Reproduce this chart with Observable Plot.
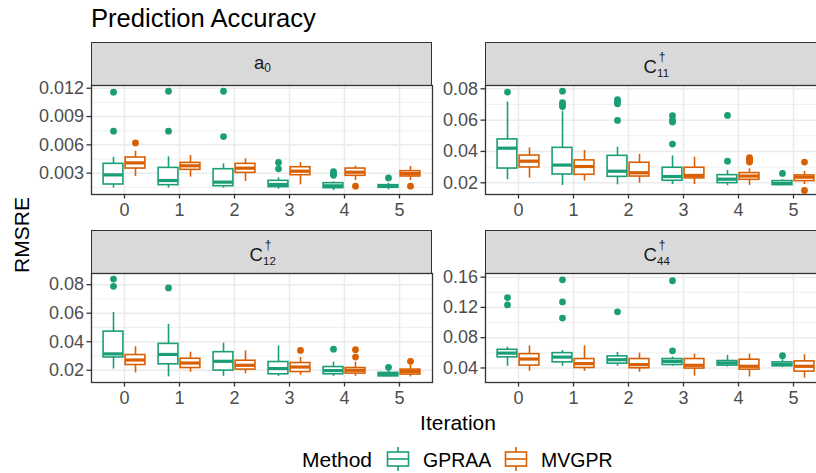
<!DOCTYPE html>
<html>
<head>
<meta charset="utf-8">
<script src="https://cdn.jsdelivr.net/npm/d3@7"></script>
<script src="https://cdn.jsdelivr.net/npm/@observablehq/plot@0.6"></script>
<style>
  html, body { margin: 0; padding: 0; background: #fff; }
  #root { position: relative; width: 816px; height: 473px; overflow: hidden; background: #fff;
          font-family: "Liberation Sans", Arial, sans-serif; }
  .abs { position: absolute; }
  .strip { position: absolute; box-sizing: border-box; background: #d9d9d9; border: 1.3px solid #333; }
  .strip svg { position: absolute; left: 0; top: 0; overflow: visible; }
</style>
</head>
<body>
<div id="root"></div>
<script>
// ---------------- data ----------------
const iterations = [0, 1, 2, 3, 4, 5];
const methods = ["GPRAA", "MVGPR"];
const methodColors = ["#1b9e77", "#d95f02"];

// a0
const a0_GPRAA_lo  = [0.00141, 0.00141, 0.00141, 0.00130, 0.00116, 0.00123];
const a0_GPRAA_q1  = [0.00180, 0.00173, 0.00162, 0.00152, 0.00141, 0.00145];
const a0_GPRAA_med = [0.00282, 0.00222, 0.00205, 0.00180, 0.00166, 0.00162];
const a0_GPRAA_q3  = [0.00399, 0.00356, 0.00342, 0.00219, 0.00194, 0.00173];
const a0_GPRAA_hi  = [0.00469, 0.00473, 0.00399, 0.00250, 0.00208, 0.00194];
const a0_GPRAA_out = [[0, 0.01158], [0, 0.00745], [1, 0.01168], [1, 0.00745], [2, 0.01168], [2, 0.00688],
                      [3, 0.00413], [3, 0.00346], [4, 0.00315], [4, 0.00295], [4, 0.00278], [5, 0.00250]];
const a0_MVGPR_lo  = [0.00265, 0.00258, 0.00212, 0.00176, 0.00222, 0.00222];
const a0_MVGPR_q1  = [0.00349, 0.00335, 0.00303, 0.00279, 0.00272, 0.00265];
const a0_MVGPR_med = [0.00409, 0.00378, 0.00353, 0.00321, 0.00310, 0.00296];
const a0_MVGPR_q3  = [0.00466, 0.00409, 0.00399, 0.00363, 0.00349, 0.00321];
const a0_MVGPR_hi  = [0.00533, 0.00487, 0.00452, 0.00413, 0.00374, 0.00371];
const a0_MVGPR_out = [[0, 0.00621], [4, 0.00162], [5, 0.00162]];

// C11
const c11_GPRAA_lo  = [0.0219, 0.0183, 0.0187, 0.0189, 0.0181, 0.0181];
const c11_GPRAA_q1  = [0.0291, 0.0253, 0.0238, 0.0213, 0.0198, 0.0185];
const c11_GPRAA_med = [0.0421, 0.0313, 0.0274, 0.0240, 0.0223, 0.0196];
const c11_GPRAA_q3  = [0.0477, 0.0423, 0.0372, 0.0296, 0.0249, 0.0211];
const c11_GPRAA_hi  = [0.0715, 0.0657, 0.0428, 0.0372, 0.0279, 0.0219];
const c11_GPRAA_out = [[0, 0.0779], [1, 0.0785], [1, 0.0711], [1, 0.0698], [1, 0.0687],
                       [2, 0.0730], [2, 0.0719], [2, 0.0704], [2, 0.0598],
                       [3, 0.0628], [3, 0.0600], [3, 0.0588], [3, 0.0447],
                       [4, 0.0630], [4, 0.0338], [5, 0.0260]];
const c11_MVGPR_lo  = [0.0230, 0.0211, 0.0198, 0.0189, 0.0183, 0.0189];
const c11_MVGPR_q1  = [0.0298, 0.0251, 0.0240, 0.0228, 0.0219, 0.0211];
const c11_MVGPR_med = [0.0338, 0.0304, 0.0264, 0.0247, 0.0243, 0.0236];
const c11_MVGPR_q3  = [0.0374, 0.0343, 0.0328, 0.0296, 0.0262, 0.0247];
const c11_MVGPR_hi  = [0.0423, 0.0406, 0.0381, 0.0364, 0.0289, 0.0272];
const c11_MVGPR_out = [[4, 0.0360], [4, 0.0350], [4, 0.0340], [4, 0.0332], [5, 0.0332], [5, 0.0151]];

// C12
const c12_GPRAA_lo  = [0.0209, 0.0154, 0.0158, 0.0158, 0.0158, 0.0154];
const c12_GPRAA_q1  = [0.0290, 0.0242, 0.0198, 0.0172, 0.0172, 0.0158];
const c12_GPRAA_med = [0.0315, 0.0311, 0.0263, 0.0212, 0.0198, 0.0170];
const c12_GPRAA_q3  = [0.0471, 0.0385, 0.0327, 0.0258, 0.0223, 0.0182];
const c12_GPRAA_hi  = [0.0605, 0.0522, 0.0390, 0.0371, 0.0258, 0.0195];
const c12_GPRAA_out = [[0, 0.0839], [0, 0.0788], [1, 0.0777], [4, 0.0348], [5, 0.0221]];
const c12_MVGPR_lo  = [0.0182, 0.0186, 0.0175, 0.0165, 0.0158, 0.0154];
const c12_MVGPR_q1  = [0.0237, 0.0216, 0.0205, 0.0188, 0.0177, 0.0170];
const c12_MVGPR_med = [0.0272, 0.0251, 0.0235, 0.0223, 0.0200, 0.0191];
const c12_MVGPR_q3  = [0.0307, 0.0281, 0.0267, 0.0251, 0.0216, 0.0205];
const c12_MVGPR_hi  = [0.0365, 0.0327, 0.0337, 0.0290, 0.0256, 0.0235];
const c12_MVGPR_out = [[3, 0.0339], [4, 0.0344], [4, 0.0293], [5, 0.0263]];

// C44
const c44_GPRAA_lo  = [0.0422, 0.0422, 0.0422, 0.0422, 0.0413, 0.0405];
const c44_GPRAA_q1  = [0.0540, 0.0474, 0.0457, 0.0439, 0.0431, 0.0422];
const c44_GPRAA_med = [0.0596, 0.0544, 0.0509, 0.0487, 0.0466, 0.0448];
const c44_GPRAA_q3  = [0.0640, 0.0596, 0.0553, 0.0518, 0.0492, 0.0474];
const c44_GPRAA_hi  = [0.0675, 0.0631, 0.0605, 0.0544, 0.0566, 0.0509];
const c44_GPRAA_out = [[0, 0.1330], [0, 0.1233], [1, 0.1565], [1, 0.1273], [1, 0.1059],
                       [2, 0.1142], [3, 0.1552], [3, 0.0627], [5, 0.0562]];
const c44_MVGPR_lo  = [0.0356, 0.0356, 0.0343, 0.0291, 0.0282, 0.0265];
const c44_MVGPR_q1  = [0.0431, 0.0400, 0.0396, 0.0392, 0.0378, 0.0352];
const c44_MVGPR_med = [0.0518, 0.0457, 0.0444, 0.0435, 0.0422, 0.0422];
const c44_MVGPR_q3  = [0.0583, 0.0518, 0.0518, 0.0518, 0.0509, 0.0487];
const c44_MVGPR_hi  = [0.0692, 0.0692, 0.0596, 0.0583, 0.0583, 0.0575];
const c44_MVGPR_out = [];

// axis ticks
const a0_ticks = [0.003, 0.006, 0.009, 0.012];
const a0_minor = [0.0015, 0.0045, 0.0075, 0.0105];
const c11_ticks = [0.02, 0.04, 0.06, 0.08];
const c11_minor = [0.03, 0.05, 0.07];
const c12_ticks = [0.02, 0.04, 0.06, 0.08];
const c12_minor = [0.03, 0.05, 0.07];
const c44_ticks = [0.04, 0.08, 0.12, 0.16];
const c44_minor = [0.06, 0.10, 0.14];

// strip labels: [base, superscript, subscript]
const stripLabels = [["a", "", "0"], ["C", "\u2020", "11"], ["C", "\u2020", "12"], ["C", "\u2020", "44"]];

// ---------------- build ----------------
function rows(lo, q1, med, q3, hi, method) {
  return iterations.map((it, i) => ({iter: it, method, lo: lo[i], q1: q1[i], med: med[i], q3: q3[i], hi: hi[i]}));
}
function outs(list, method) { return list.map(([iter, v]) => ({iter, method, v})); }

const panels = [
  {label: stripLabels[0], left: 91, top: 85, stripTop: 42,
   domain: [0.00074, 0.01229], ticks: a0_ticks, minor: a0_minor, fmt: ".3f",
   boxes: [...rows(a0_GPRAA_lo, a0_GPRAA_q1, a0_GPRAA_med, a0_GPRAA_q3, a0_GPRAA_hi, "GPRAA"),
           ...rows(a0_MVGPR_lo, a0_MVGPR_q1, a0_MVGPR_med, a0_MVGPR_q3, a0_MVGPR_hi, "MVGPR")],
   outliers: [...outs(a0_GPRAA_out, "GPRAA"), ...outs(a0_MVGPR_out, "MVGPR")]},
  {label: stripLabels[1], left: 485, top: 85, stripTop: 42,
   domain: [0.01253, 0.0821], ticks: c11_ticks, minor: c11_minor, fmt: ".2f",
   boxes: [...rows(c11_GPRAA_lo, c11_GPRAA_q1, c11_GPRAA_med, c11_GPRAA_q3, c11_GPRAA_hi, "GPRAA"),
           ...rows(c11_MVGPR_lo, c11_MVGPR_q1, c11_MVGPR_med, c11_MVGPR_q3, c11_MVGPR_hi, "MVGPR")],
   outliers: [...outs(c11_GPRAA_out, "GPRAA"), ...outs(c11_MVGPR_out, "MVGPR")]},
  {label: stripLabels[2], left: 91, top: 273, stripTop: 230,
   domain: [0.01146, 0.0878], ticks: c12_ticks, minor: c12_minor, fmt: ".2f",
   boxes: [...rows(c12_GPRAA_lo, c12_GPRAA_q1, c12_GPRAA_med, c12_GPRAA_q3, c12_GPRAA_hi, "GPRAA"),
           ...rows(c12_MVGPR_lo, c12_MVGPR_q1, c12_MVGPR_med, c12_MVGPR_q3, c12_MVGPR_hi, "MVGPR")],
   outliers: [...outs(c12_GPRAA_out, "GPRAA"), ...outs(c12_MVGPR_out, "MVGPR")]},
  {label: stripLabels[3], left: 485, top: 273, stripTop: 230,
   domain: [0.0208, 0.1648], ticks: c44_ticks, minor: c44_minor, fmt: ".2f",
   boxes: [...rows(c44_GPRAA_lo, c44_GPRAA_q1, c44_GPRAA_med, c44_GPRAA_q3, c44_GPRAA_hi, "GPRAA"),
           ...rows(c44_MVGPR_lo, c44_MVGPR_q1, c44_MVGPR_med, c44_MVGPR_q3, c44_MVGPR_hi, "MVGPR")],
   outliers: [...outs(c44_GPRAA_out, "GPRAA"), ...outs(c44_MVGPR_out, "MVGPR")]}
];

const root = document.getElementById("root");
const PW = 341, PH = 109, ML = 60, MT = 2, MR = 2, MB = 40;
const dodge = d => d.iter + (d.method === "GPRAA" ? -0.2 : 0.2);
const half = 0.18;
const fontFamily = '"Liberation Sans", Arial, sans-serif';

function stripSvg([base, sup, sub], w, h) {
  const cx = w / 2;
  if (!sup) {
    return `<svg width="${w}" height="${h}" font-family='${fontFamily}' fill="#1a1a1a">
      <text x="${cx - 8.5}" y="25.5" font-size="18.5">${base}</text>
      <text x="${cx + 1.8}" y="29" font-size="12">${sub}</text></svg>`;
  }
  return `<svg width="${w}" height="${h}" font-family='${fontFamily}' fill="#1a1a1a">
    <text x="${cx - 13}" y="29.5" font-size="18.5">${base}</text>
    <text x="${cx + 2.2}" y="18" font-size="12">${sup}</text>
    <text x="${cx + 0.6}" y="33.5" font-size="11.5">${sub}</text></svg>`;
}

for (const p of panels) {
  const strip = document.createElement("div");
  strip.className = "strip";
  const sh = p.top - p.stripTop + 1;
  Object.assign(strip.style, {left: p.left + "px", top: p.stripTop + "px", width: PW + "px", height: sh + "px"});
  strip.innerHTML = stripSvg(p.label, PW, sh);
  root.appendChild(strip);

  const svg = Plot.plot({
    width: ML + PW + MR, height: MT + PH + MB,
    marginLeft: ML, marginTop: MT, marginRight: MR, marginBottom: MB,
    style: {fontFamily, fontSize: "18px", background: "transparent", overflow: "visible"},
    x: {domain: [-0.6, 5.6]},
    y: {domain: p.domain},
    color: {domain: methods, range: methodColors},
    marks: [
      Plot.gridY(p.minor, {stroke: "#ebebeb", strokeOpacity: 1, strokeWidth: 0.8}),
      Plot.gridY(p.ticks, {stroke: "#ebebeb", strokeOpacity: 1, strokeWidth: 1.5}),
      Plot.gridX(iterations, {stroke: "#ebebeb", strokeOpacity: 1, strokeWidth: 1.5}),
      Plot.ruleX(p.boxes, {x: dodge, y1: "lo", y2: "hi", stroke: "method", strokeWidth: 1.6}),
      Plot.rect(p.boxes, {x1: d => dodge(d) - half, x2: d => dodge(d) + half, y1: "q1", y2: "q3",
                          fill: "white", stroke: "method", strokeWidth: 1.6}),
      Plot.ruleY(p.boxes, {y: "med", x1: d => dodge(d) - half, x2: d => dodge(d) + half, stroke: "method", strokeWidth: 3.2}),
      Plot.dot(p.outliers, {x: dodge, y: "v", r: 3.4, fill: "method", stroke: "none"}),
      Plot.frame({stroke: "#333", strokeWidth: 1.3}),
      Plot.axisX({ticks: iterations, tickFormat: d => String(d), tickSize: 4.5, tickPadding: 4.5,
                  stroke: "#333", strokeWidth: 1.3, color: "#4d4d4d", label: null, fontSize: 18}),
      Plot.axisY({ticks: p.ticks, tickFormat: d3.format(p.fmt), tickSize: 4.5, tickPadding: 3,
                  stroke: "#333", strokeWidth: 1.3, color: "#4d4d4d", label: null, fontSize: 18})
    ]
  });
  svg.style.position = "absolute";
  svg.style.left = (p.left - ML) + "px";
  svg.style.top = (p.top - MT) + "px";
  root.appendChild(svg);
}

function addText(html, css) {
  const d = document.createElement("div");
  d.className = "abs";
  d.innerHTML = html;
  Object.assign(d.style, css);
  root.appendChild(d);
  return d;
}
addText("Prediction Accuracy", {left: "91px", top: "5px", fontSize: "25.6px", lineHeight: "26px", color: "#000", whiteSpace: "nowrap"});
addText("RMSRE", {left: "-38px", top: "223px", width: "120px", height: "24px", lineHeight: "24px", textAlign: "center",
                  fontSize: "21px", color: "#000", transform: "rotate(-90deg)"});
addText("Iteration", {left: "358px", top: "412px", width: "200px", textAlign: "center", fontSize: "21px", lineHeight: "21px", color: "#000"});

// legend
addText("Method", {left: "302px", top: "449px", fontSize: "21px", lineHeight: "21px", color: "#000"});
function keySvg(color) {
  return `<svg width="24" height="24" viewBox="0 0 24 24" style="display:block">
    <line x1="12" y1="0" x2="12" y2="24" stroke="${color}" stroke-width="1.6"/>
    <rect x="1.5" y="5" width="21" height="14" fill="white" stroke="${color}" stroke-width="1.6"/>
    <line x1="1.5" y1="12" x2="22.5" y2="12" stroke="${color}" stroke-width="1.6"/>
  </svg>`;
}
addText(keySvg(methodColors[0]), {left: "386px", top: "447px"});
addText(methods[0], {left: "423px", top: "450px", fontSize: "19.5px", lineHeight: "20px", color: "#000"});
addText(keySvg(methodColors[1]), {left: "504px", top: "447px"});
addText(methods[1], {left: "541px", top: "450px", fontSize: "19.5px", lineHeight: "20px", color: "#000"});
</script>
</body>
</html>
